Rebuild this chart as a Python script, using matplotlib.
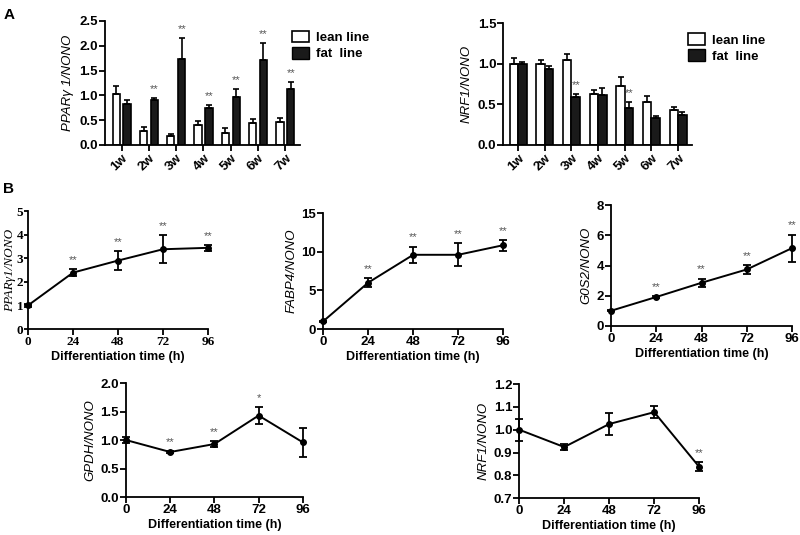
import numpy as np
import matplotlib
matplotlib.use('Agg')
import matplotlib.pyplot as plt
from matplotlib.patches import Patch

plt.rcParams['font.family'] = ['Liberation Sans', 'DejaVu Sans']

# ---- panel A data (bar charts) ----
weeks = ['1w', '2w', '3w', '4w', '5w', '6w', '7w']
ppar_lean = [1.03, 0.28, 0.19, 0.40, 0.25, 0.44, 0.47]
ppar_lean_err = [0.16, 0.08, 0.03, 0.08, 0.09, 0.08, 0.07]
ppar_fat = [0.83, 0.91, 1.74, 0.74, 0.97, 1.71, 1.13]
ppar_fat_err = [0.08, 0.04, 0.41, 0.07, 0.15, 0.34, 0.14]
ppar_stars = ['', '**', '**', '**', '**', '**', '**']

nrf_lean = [1.00, 0.99, 1.04, 0.63, 0.72, 0.53, 0.43]
nrf_lean_err = [0.07, 0.06, 0.08, 0.05, 0.11, 0.07, 0.04]
nrf_fat = [0.99, 0.93, 0.59, 0.61, 0.46, 0.33, 0.37]
nrf_fat_err = [0.03, 0.04, 0.04, 0.09, 0.07, 0.03, 0.03]
nrf_stars = ['', '', '**', '', '**', '', '']

# ---- panel B data (time courses) ----
hours = [0, 24, 48, 72, 96]
b_ppar = [1.0, 2.39, 2.90, 3.38, 3.44]
b_ppar_err = [0.08, 0.16, 0.39, 0.60, 0.12]
b_ppar_stars = ['', '**', '**', '**', '**']
fabp4 = [1.0, 6.0, 9.6, 9.6, 10.84]
fabp4_err = [0.1, 0.55, 1.07, 1.5, 0.7]
fabp4_stars = ['', '**', '**', '**', '**']
g0s2 = [1.01, 1.92, 2.86, 3.74, 5.15]
g0s2_err = [0.03, 0.05, 0.28, 0.31, 0.9]
g0s2_stars = ['', '**', '**', '**', '**']
gpdh = [1.0, 0.79, 0.93, 1.43, 0.96]
gpdh_err = [0.05, 0.02, 0.05, 0.15, 0.25]
gpdh_stars = ['', '**', '**', '*', '']
nrf_t = [1.0, 0.924, 1.025, 1.077, 0.837]
nrf_t_err = [0.048, 0.013, 0.05, 0.025, 0.02]
nrf_t_stars = ['', '', '', '', '**']

star_col = '#555555'


def style_axes(ax, serif=False):
    for s in ['top', 'right']:
        ax.spines[s].set_visible(False)
    for s in ['left', 'bottom']:
        ax.spines[s].set_linewidth(1.3)
    ax.tick_params(direction='out', length=4, width=1.3, labelsize=9.5, pad=1)
    fam = ['Liberation Serif'] if serif else ['Liberation Sans']
    for lab in ax.get_xticklabels() + ax.get_yticklabels():
        lab.set_fontweight('bold')
        lab.set_family(fam)


def bar_panel(ax, lean, lean_err, fat, fat_err, stars, ylim, yticks, ylabel,
              width, off, xlim, leg_xy):
    x = np.arange(len(weeks))
    ax.bar(x - off, lean, width, color='white', edgecolor='black', linewidth=1.2,
           yerr=[np.zeros(len(x)), lean_err], capsize=2.5,
           error_kw=dict(elinewidth=1.2, capthick=1.2))
    ax.bar(x + off, fat, width, color='#1a1a1a', edgecolor='black', linewidth=1.2,
           yerr=[np.zeros(len(x)), fat_err], capsize=2.5,
           error_kw=dict(elinewidth=1.2, capthick=1.2))
    for i, s in enumerate(stars):
        if s:
            ax.annotate(s, (x[i] + off, fat[i] + fat_err[i]), xytext=(0, 3),
                        textcoords='offset points', ha='center', va='bottom',
                        fontsize=8, color=star_col)
    ax.set_xlim(*xlim)
    ax.set_ylim(*ylim)
    ax.set_yticks(yticks)
    ax.set_yticklabels(['%.1f' % v for v in yticks])
    ax.set_xticks(x)
    ax.set_xticklabels(weeks, rotation=45, ha='right', rotation_mode='anchor')
    ax.set_ylabel(ylabel, fontsize=9.5, style='italic', labelpad=4)
    style_axes(ax)
    handles = [Patch(facecolor='white', edgecolor='black', linewidth=1.2, label='lean line'),
               Patch(facecolor='#1a1a1a', edgecolor='black', label='fat  line')]
    ax.legend(handles=handles, loc='upper left', bbox_to_anchor=leg_xy,
              bbox_transform=fig.transFigure, frameon=False,
              prop=dict(weight='bold', size=9.5), handlelength=1.3, handleheight=1.0,
              handletextpad=0.5, labelspacing=0.2, borderpad=0)


def line_panel(ax, y, yerr, stars, ylim, yticks, ylabel, fmt=None, serif=False):
    ax.errorbar(hours, y, yerr=yerr, color='black', marker='o', markersize=4,
                linewidth=1.4, capsize=3, elinewidth=1.3, capthick=1.3,
                clip_on=False, zorder=3)
    for i, s in enumerate(stars):
        if s:
            ax.annotate(s, (hours[i], y[i] + yerr[i]), xytext=(0, 3),
                        textcoords='offset points', ha='center', va='bottom',
                        fontsize=8, color=star_col)
    ax.set_xlim(0, 96)
    ax.set_xticks(hours)
    ax.set_ylim(*ylim)
    ax.set_yticks(yticks)
    if fmt:
        ax.set_yticklabels([fmt % v for v in yticks])
    fam = ['Liberation Serif'] if serif else ['Liberation Sans']
    ax.set_ylabel(ylabel, fontsize=9.5, style='italic', family=fam,
                  labelpad=0 if serif else 3)
    ax.set_xlabel('Differentiation time (h)', fontsize=9, fontweight='bold', labelpad=2)
    style_axes(ax, serif)
    if serif:
        ax.tick_params(axis='y', length=3, pad=0.5)


fig = plt.figure(figsize=(8, 5.35), dpi=100)

ax1 = fig.add_axes([0.131, 0.729, 0.244, 0.232])
bar_panel(ax1, ppar_lean, ppar_lean_err, ppar_fat, ppar_fat_err, ppar_stars,
          (0, 2.5), np.arange(0, 2.51, 0.5), 'PPARγ 1/NONO', 0.27, 0.2,
          (-0.62, 6.54), (0.357, 0.955))

ax2 = fig.add_axes([0.629, 0.729, 0.236, 0.228])
bar_panel(ax2, nrf_lean, nrf_lean_err, nrf_fat, nrf_fat_err, nrf_stars,
          (0, 1.5), np.arange(0, 1.51, 0.5), 'NRF1/NONO', 0.32, 0.16,
          (-0.56, 6.52), (0.852, 0.95))

ax3 = fig.add_axes([0.035, 0.385, 0.225, 0.2206])
line_panel(ax3, b_ppar, b_ppar_err, b_ppar_stars, (0, 5), range(0, 6),
           'PPARγ1/NONO', serif=True)

ax4 = fig.add_axes([0.404, 0.385, 0.225, 0.2168])
line_panel(ax4, fabp4, fabp4_err, fabp4_stars, (0, 15), [0, 5, 10, 15], 'FABP4/NONO')

ax5 = fig.add_axes([0.764, 0.3907, 0.226, 0.226])
line_panel(ax5, g0s2, g0s2_err, g0s2_stars, (0, 8), [0, 2, 4, 6, 8], 'G0S2/NONO')

ax6 = fig.add_axes([0.1575, 0.071, 0.221, 0.213])
line_panel(ax6, gpdh, gpdh_err, gpdh_stars, (0, 2.0), np.arange(0, 2.01, 0.5),
           'GPDH/NONO', fmt='%.1f')

ax7 = fig.add_axes([0.649, 0.069, 0.225, 0.213])
line_panel(ax7, nrf_t, nrf_t_err, nrf_t_stars, (0.7, 1.2), np.arange(0.7, 1.201, 0.1),
           'NRF1/NONO', fmt='%.1f')

fig.text(0.004, 0.985, 'A', fontsize=11, fontweight='bold', va='top')
fig.text(0.004, 0.66, 'B', fontsize=11, fontweight='bold', va='top')

fig.savefig('out.png', dpi=100)
